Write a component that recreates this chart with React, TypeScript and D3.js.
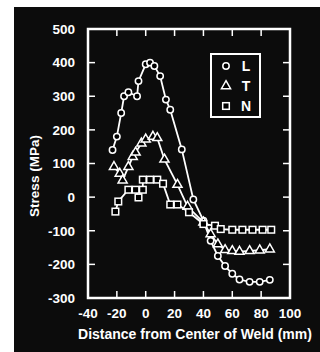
import { useMemo } from "react";
import * as d3 from "d3";

// distance from weld centre (mm), stress (MPa)
const longDist = [-23, -20, -17, -15, -12, -6, -5, 0, 3, 6, 10, 14, 17, 25, 33, 40, 45, 50, 55, 60, 65, 72, 79, 86];
const longStress = [140, 180, 250, 300, 312, 300, 345, 395, 400, 390, 360, 290, 260, 142, -7, -70, -130, -175, -205, -228, -245, -252, -252, -246];

const transDist = [-22, -18, -16, -12, -9, -7, -3, 0, 5, 8, 13, 22, 29, 40, 45, 50, 55, 60, 65, 72, 79, 86];
const transStress = [90, 70, 50, 90, 120, 133, 160, 172, 180, 176, 112, 37, -28, -75, -110, -140, -157, -160, -162, -160, -158, -155];

const normDist = [-21, -19, -12, -7, -5, -2, -2, 3, 8, 12, 17, 22, 30, 40, 48, 52, 60, 67, 74, 81, 87];
const normStress = [-43, -13, 22, 22, -1, 22, 52, 52, 52, 40, -22, -22, -45, -80, -85, -95, -97, -97, -97, -97, -97];

const xTicks = [-40, -20, 0, 20, 40, 60, 80, 100];
const yTicks = [500, 400, 300, 200, 100, 0, -100, -200, -300];
const legendKeys = ["L", "T", "N"];

const W = 320;
const H = 352;

function Marker({ kind, cx, cy }: { kind: string; cx: number; cy: number }) {
  if (kind === "L") return <circle cx={cx} cy={cy} r={3.2} fill="#000" stroke="#fff" strokeWidth={1.5} />;
  if (kind === "T") {
    const tri = d3.symbol(d3.symbolTriangle, 36)();
    return <path d={tri || ""} transform={`translate(${cx},${cy})`} fill="#000" stroke="#fff" strokeWidth={1.5} />;
  }
  return <rect x={cx - 3.3} y={cy - 3.3} width={6.6} height={6.6} fill="#000" stroke="#fff" strokeWidth={1.5} />;
}

export default function App() {
  const x = d3.scaleLinear().domain([-40, 100]).range([88, 290]);
  const y = d3.scaleLinear().domain([-300, 500]).range([298, 29]);

  const series = useMemo(
    () => [
      { key: "L", pts: longDist.map((d, i) => [d, longStress[i]] as [number, number]) },
      { key: "T", pts: transDist.map((d, i) => [d, transStress[i]] as [number, number]) },
      { key: "N", pts: normDist.map((d, i) => [d, normStress[i]] as [number, number]) },
    ],
    []
  );

  const line = d3
    .line<[number, number]>()
    .x((d) => x(d[0]))
    .y((d) => y(d[1]));

  const font = "Liberation Sans, Arial, sans-serif";
  const x0 = x(-40), x1 = x(100), yTop = y(500), yBot = y(-300);
  const tickLen = 7;

  return (
    <svg width={W} height={H} style={{ position: "absolute", left: 0, top: 0 }} fontFamily={font}>
      <rect x={0} y={0} width={W} height={H} fill="#fff" />
      <rect x={14} y={7} width={W - 14} height={H - 7} fill="#0c0c0c" />

      {/* frame */}
      <rect x={x0} y={yTop} width={x1 - x0} height={yBot - yTop} fill="none" stroke="#fff" strokeWidth={2.5} />

      {/* inward ticks */}
      {yTicks.slice(1, -1).map((t) => (
        <g key={"yt" + t} stroke="#fff" strokeWidth={1.5}>
          <line x1={x0} x2={x0 + tickLen} y1={y(t)} y2={y(t)} />
          <line x1={x1} x2={x1 - tickLen} y1={y(t)} y2={y(t)} />
        </g>
      ))}
      {xTicks.slice(1, -1).map((t) => (
        <g key={"xt" + t} stroke="#fff" strokeWidth={1.5}>
          <line x1={x(t)} x2={x(t)} y1={yTop} y2={yTop + tickLen} />
          <line x1={x(t)} x2={x(t)} y1={yBot} y2={yBot - tickLen} />
        </g>
      ))}

      {/* tick labels */}
      {yTicks.map((t) => (
        <text key={"yl" + t} x={75} y={y(t)} dy="0.36em" textAnchor="end" fill="#fff" fontSize={13.5} fontWeight="bold">
          {t < 0 ? "-" + Math.abs(t) : t}
        </text>
      ))}
      {xTicks.map((t) => (
        <text key={"xl" + t} x={x(t)} y={318} textAnchor="middle" fill="#fff" fontSize={13.5} fontWeight="bold">
          {t < 0 ? "-" + Math.abs(t) : t}
        </text>
      ))}

      {/* axis titles */}
      <text x={195} y={339} textAnchor="middle" fill="#fff" fontSize={14} fontWeight="bold">
        Distance from Center of Weld (mm)
      </text>
      <text transform={`translate(39,176) rotate(-90)`} textAnchor="middle" fill="#fff" fontSize={13.5} fontWeight="bold">
        Stress (MPa)
      </text>

      {/* curves */}
      {series.map((s) => (
        <g key={s.key}>
          <path d={line(s.pts) || ""} fill="none" stroke="#fff" strokeWidth={1.8} />
          {s.pts.map((p, i) => (
            <Marker key={i} kind={s.key} cx={x(p[0])} cy={y(p[1])} />
          ))}
        </g>
      ))}

      {/* legend */}
      <rect x={211} y={54} width={49} height={63} fill="#0c0c0c" stroke="#fff" strokeWidth={2} />
      {legendKeys.map((k, i) => (
        <g key={k}>
          <Marker kind={k} cx={226} cy={66 + i * 20} />
          <text x={246} y={66 + i * 20} dy="0.36em" textAnchor="middle" fill="#fff" fontSize={14} fontWeight="bold">
            {k}
          </text>
        </g>
      ))}
    </svg>
  );
}
